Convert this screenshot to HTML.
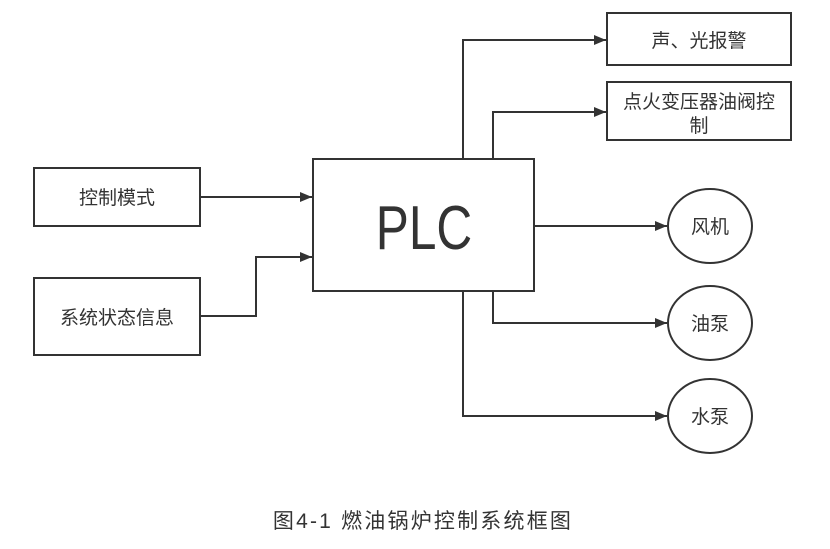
<!DOCTYPE html>
<html><head><meta charset="utf-8"><style>
body{margin:0;background:#fff;}
svg text{font-family:"Liberation Sans","Noto Sans CJK SC",sans-serif;fill:#333;}
</style></head><body>
<svg width="830" height="544" viewBox="0 0 830 544" xmlns="http://www.w3.org/2000/svg">
<defs><marker id="a" markerWidth="12" markerHeight="10" refX="12" refY="5" orient="auto" markerUnits="userSpaceOnUse"><path d="M0,0 L12,5 L0,10 Z" fill="#333"/></marker></defs>
<g fill="none" stroke="#333" stroke-width="2">
<rect x="34" y="168" width="166" height="58"/>
<rect x="34" y="278" width="166" height="77"/>
<rect x="313" y="159" width="221" height="132"/>
<rect x="607" y="13" width="184" height="52"/>
<rect x="607" y="82" width="184" height="58"/>
<ellipse cx="710" cy="226" rx="42" ry="37"/>
<ellipse cx="710" cy="323" rx="42" ry="37"/>
<ellipse cx="710" cy="416" rx="42" ry="37"/>
<path d="M200,197 H312" marker-end="url(#a)"/>
<path d="M200,316 H256 V257 H312" marker-end="url(#a)"/>
<path d="M463,159 V40 H606" marker-end="url(#a)"/>
<path d="M493,159 V112 H606" marker-end="url(#a)"/>
<path d="M534,226 H667" marker-end="url(#a)"/>
<path d="M493,291 V323 H667" marker-end="url(#a)"/>
<path d="M463,291 V416 H667" marker-end="url(#a)"/>
</g>
<g font-size="19" text-anchor="middle">
<text x="117" y="204">控制模式</text>
<text x="117" y="324">系统状态信息</text>
<text x="699" y="47">声、光报警</text>
<text x="699" y="108">点火变压器油阀控</text>
<text x="699" y="132">制</text>
<text x="710" y="233">风机</text>
<text x="710" y="330">油泵</text>
<text x="710" y="423">水泵</text>
</g>
<text x="424" y="249" font-size="62" text-anchor="middle" transform="translate(424,0) scale(0.8,1) translate(-424,0)">PLC</text>
<text x="423" y="528" font-size="21" letter-spacing="2.2" text-anchor="middle">图4-1  燃油锅炉控制系统框图</text>
</svg>
</body></html>
